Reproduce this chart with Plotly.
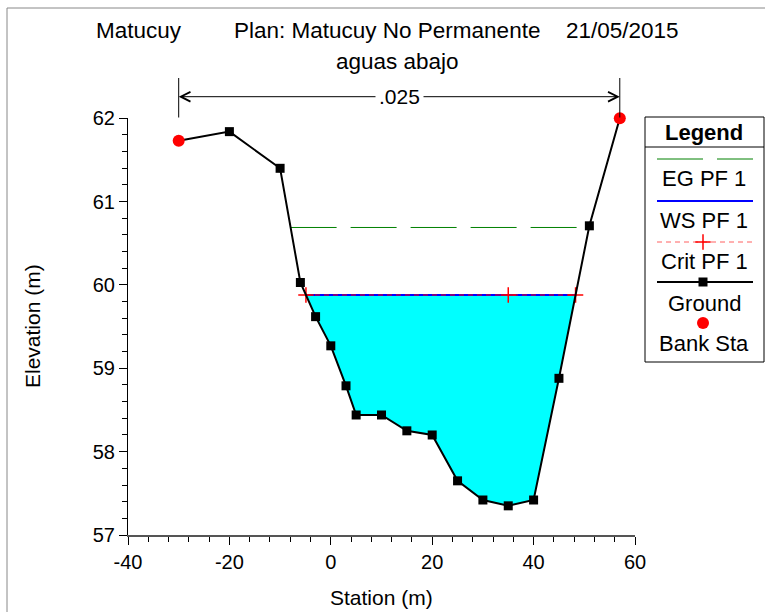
import numpy as np
import plotly.graph_objects as go

# Cross-section survey (station, ground elevation)
station = [-30, -20, -10, -6, -3, 0, 3, 5, 10, 15, 20, 25, 30, 35, 40, 45, 51, 57]
elevation = [61.73, 61.84, 61.40, 60.03, 59.62, 59.27, 58.79, 58.44, 58.44,
             58.25, 58.20, 57.65, 57.42, 57.35, 57.42, 58.88, 60.71, 62.00]
bank_stations = [-30, 57]

# Profile PF 1 results
eg_pf1 = 60.69
ws_pf1 = 59.88
crit_pf1 = 59.88
mannings_n = ".025"

# Text
title_left = "Matucuy"
title_plan = "Plan: Matucuy No Permanente"
title_date = "21/05/2015"
subtitle = "aguas abajo"
x_title = "Station (m)"
y_title = "Elevation (m)"
x_ticks = [-40, -20, 0, 20, 40, 60]
y_ticks = [57, 58, 59, 60, 61, 62]
legend_title = "Legend"
legend_labels = ["EG PF 1", "WS PF 1", "Crit PF 1", "Ground", "Bank Sta"]

W, H = 765, 612
FONT = "Liberation Sans, Arial, sans-serif"

xs = np.array(station, float)
ys = np.array(elevation, float)


def crossings(level):
    """Stations where the ground profile crosses a given elevation."""
    idx = np.where(np.diff(np.sign(ys - level)) != 0)[0]
    out = []
    for i in idx:
        t = (level - ys[i]) / (ys[i + 1] - ys[i])
        out.append(xs[i] + t * (xs[i + 1] - xs[i]))
    return out[0], out[-1]


ws_l, ws_r = crossings(ws_pf1)
eg_l, eg_r = crossings(eg_pf1)
cr_l, cr_r = crossings(crit_pf1)
thalweg = xs[np.argmin(ys)]

inside = (xs > ws_l) & (xs < ws_r)
water_x = [ws_l] + list(xs[inside]) + [ws_r]
water_y = [ws_pf1] + list(ys[inside]) + [ws_pf1]

is_bank = np.isin(xs, bank_stations)
bank_y = [ys[list(xs).index(b)] for b in bank_stations]

EG_DASH = "46px,14px"
CRIT_DASH = "5px,4px"

fig = go.Figure()

# water area
fig.add_trace(go.Scatter(x=water_x, y=water_y, fill="toself", fillcolor="#00FFFF",
                         mode="none", hoverinfo="skip"))
# energy grade line
fig.add_trace(go.Scatter(x=[eg_l, eg_r], y=[eg_pf1, eg_pf1], mode="lines",
                         line=dict(color="#008000", width=1, dash=EG_DASH)))
# water surface
fig.add_trace(go.Scatter(x=[ws_l, ws_r], y=[ws_pf1, ws_pf1], mode="lines",
                         line=dict(color="#0000FF", width=2)))
# critical depth
fig.add_trace(go.Scatter(x=[cr_l, thalweg, cr_r], y=[crit_pf1] * 3, mode="lines+markers",
                         line=dict(color="#FF0000", width=1, dash=CRIT_DASH),
                         marker=dict(symbol="cross-thin", size=11,
                                     line=dict(color="#FF0000", width=1.5))))
# ground profile
fig.add_trace(go.Scatter(x=xs, y=ys, mode="lines", line=dict(color="black", width=2),
                         cliponaxis=False))
fig.add_trace(go.Scatter(x=xs[~is_bank], y=ys[~is_bank], mode="markers",
                         marker=dict(symbol="square", size=9, color="black"), cliponaxis=False))
# bank stations
fig.add_trace(go.Scatter(x=bank_stations, y=bank_y, mode="markers",
                         marker=dict(symbol="circle", size=12, color="#FF0000"), cliponaxis=False))

# legend panel glyphs (panel axes measured in pixels from its top-left corner)
LX0, LX1, LXC = 12, 108, 58
leg_rows = [42, 84, 125, 165, 206]
leg_text_rows = [61, 103, 144, 186, 226]
fig.add_trace(go.Scatter(x=[LX0, LX1], y=[leg_rows[0]] * 2, mode="lines", xaxis="x2", yaxis="y2",
                         line=dict(color="#008000", width=1, dash=EG_DASH)))
fig.add_trace(go.Scatter(x=[LX0, LX1], y=[leg_rows[1]] * 2, mode="lines", xaxis="x2", yaxis="y2",
                         line=dict(color="#0000FF", width=2)))
fig.add_trace(go.Scatter(x=[LX0, LX1], y=[leg_rows[2]] * 2, mode="lines", xaxis="x2", yaxis="y2",
                         line=dict(color="#FF6060", width=1, dash=CRIT_DASH)))
fig.add_trace(go.Scatter(x=[LXC], y=[leg_rows[2]], mode="markers", xaxis="x2", yaxis="y2",
                         marker=dict(symbol="cross-thin", size=11, line=dict(color="#FF0000", width=1.5))))
fig.add_trace(go.Scatter(x=[LX0, LX1], y=[leg_rows[3]] * 2, mode="lines", xaxis="x2", yaxis="y2",
                         line=dict(color="black", width=2)))
fig.add_trace(go.Scatter(x=[LXC], y=[leg_rows[3]], mode="markers", xaxis="x2", yaxis="y2",
                         marker=dict(symbol="square", size=9, color="black")))
fig.add_trace(go.Scatter(x=[LXC], y=[leg_rows[4]], mode="markers", xaxis="x2", yaxis="y2",
                         marker=dict(symbol="circle", size=12, color="#FF0000")))

annotations = []
for label, ty in zip(legend_labels, leg_text_rows):
    annotations.append(dict(text=label, x=LXC + 1, y=ty, xref="x2", yref="y2", showarrow=False,
                            xanchor="center", yanchor="middle",
                            font=dict(family=FONT, size=22, color="black")))
annotations.append(dict(text="<b>%s</b>" % legend_title, x=LXC + 1, y=15, xref="x2", yref="y2",
                        showarrow=False, xanchor="center", yanchor="middle",
                        font=dict(family=FONT, size=22, color="black")))

# titles
ty1 = 1 - 30 / H
ty2 = 1 - 62 / H
for txt, px in [(title_left, 138.5), (title_plan, 386.5), (title_date, 622.5)]:
    annotations.append(dict(text=txt, x=px / W, y=ty1, xref="paper", yref="paper", showarrow=False,
                            xanchor="center", yanchor="middle",
                            font=dict(family=FONT, size=22.5, color="black")))
annotations.append(dict(text=subtitle, x=397.5 / W, y=ty2, xref="paper", yref="paper", showarrow=False,
                        xanchor="center", yanchor="middle", font=dict(family=FONT, size=22.5, color="black")))

# axis titles
annotations.append(dict(text=x_title, x=381 / W, y=1 - 597 / H, xref="paper", yref="paper",
                        showarrow=False, xanchor="center", yanchor="middle",
                        font=dict(family=FONT, size=21, color="black")))
annotations.append(dict(text=y_title, x=32 / W, y=1 - 326 / H, xref="paper", yref="paper",
                        showarrow=False, textangle=-90, xanchor="center", yanchor="middle",
                        font=dict(family=FONT, size=21, color="black")))

# Manning's n span between bank stations
arrow_y = 1 - 96.7 / H
n_mid = (bank_stations[0] + bank_stations[1]) / 2
for b in bank_stations:
    annotations.append(dict(text="", x=b, y=arrow_y, xref="x", yref="paper",
                            ax=n_mid, ay=0, axref="x", ayref="pixel", showarrow=True,
                            arrowhead=5, arrowsize=1.9, arrowwidth=1, arrowcolor="black"))
annotations.append(dict(text=mannings_n, x=n_mid, y=arrow_y, xref="x", yref="paper", showarrow=False,
                        xanchor="center", yanchor="middle",
                        bgcolor="white", borderpad=3, font=dict(family=FONT, size=21, color="black")))

shapes = []
for b in bank_stations:
    shapes.append(dict(type="line", xref="x", yref="paper", x0=b, x1=b,
                       y0=1 - 117.5 / H, y1=1 - 78 / H, line=dict(color="black", width=1)))
# outer frame
shapes.append(dict(type="rect", xref="paper", yref="paper", x0=7 / W, x1=1.02, y0=-0.02, y1=1 - 8 / H,
                   line=dict(color="#888888", width=1)))
# legend box and header rule
shapes.append(dict(type="rect", xref="x2 domain", yref="y2 domain", x0=0, x1=1, y0=0, y1=1,
                   line=dict(color="black", width=1)))
shapes.append(dict(type="line", xref="x2 domain", yref="y2", x0=0, x1=1, y0=30, y1=30,
                   line=dict(color="black", width=1)))

fig.update_layout(
    width=W, height=H,
    margin=dict(l=0, r=0, t=0, b=0, autoexpand=False),
    paper_bgcolor="white", plot_bgcolor="white",
    showlegend=False, hovermode=False,
    font=dict(family=FONT, size=20, color="black"),
    annotations=annotations, shapes=shapes,
    xaxis=dict(domain=[128 / W, 635 / W], range=[-40, 60], tickvals=x_ticks,
               ticktext=[str(v) for v in x_ticks],
               showgrid=False, zeroline=False, showline=True, linecolor="#555555", linewidth=1.5,
               ticks="outside", ticklen=8, tickcolor="black", tickwidth=1,
               tickfont=dict(family=FONT, size=20), automargin=False,
               minor=dict(dtick=4, ticks="outside", ticklen=5, tickcolor="black", tickwidth=1),
               anchor="y"),
    yaxis=dict(domain=[1 - 535 / H, 1 - 118.3 / H], range=[57, 62], tickvals=y_ticks,
               ticktext=[str(v) for v in y_ticks],
               showgrid=False, zeroline=False, showline=True, linecolor="black", linewidth=1,
               ticks="outside", ticklen=8, tickcolor="black", tickwidth=1,
               tickfont=dict(family=FONT, size=20), automargin=False,
               minor=dict(dtick=0.2, ticks="outside", ticklen=5, tickcolor="black", tickwidth=1),
               anchor="x"),
    xaxis2=dict(domain=[645 / W, 764 / W], range=[0, 119], visible=False, anchor="y2"),
    yaxis2=dict(domain=[1 - 362 / H, 1 - 117 / H], range=[245, 0], visible=False, anchor="x2"),
)

fig.write_html("out.html")
